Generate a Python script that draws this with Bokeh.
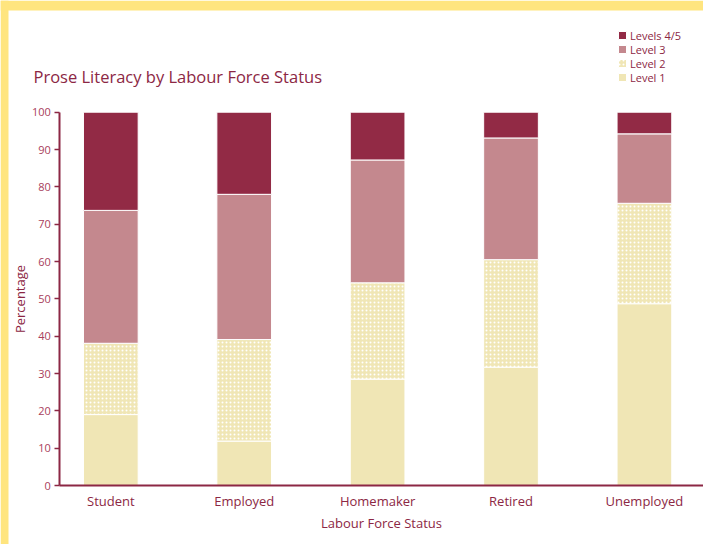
from bokeh.plotting import figure
from bokeh.models import Range1d, FixedTicker, Legend, LegendItem, ColumnDataSource, Label, BoxAnnotation
from bokeh.embed import file_html
from bokeh.resources import INLINE

categories = ["Student", "Employed", "Homemaker", "Retired", "Unemployed"]
level1 = [19.0, 11.9, 28.5, 31.7, 48.7]
level2 = [19.1, 27.2, 25.8, 28.8, 26.9]
level3 = [35.6, 38.9, 32.9, 32.6, 18.6]
level45 = [26.3, 22.0, 12.8, 6.9, 5.8]
y_ticks = [0, 10, 20, 30, 40, 50, 60, 70, 80, 90, 100]
legend_names = ["Level 1", "Level 2", "Level 3", "Levels 4/5"]

MAROON = "#8C2744"
FONT = "Open Sans"
W, H = 703, 544

src = ColumnDataSource(dict(x=list(range(len(categories))), l1=level1, l2=level2, l3=level3, l45=level45))

p = figure(width=W, height=H, output_backend="svg", toolbar_location=None,
           x_range=Range1d(-0.827, 4.443), y_range=Range1d(-15.8, 129.92),
           min_border=0, min_border_left=0, min_border_right=0,
           min_border_top=0, min_border_bottom=0)
p.outline_line_color = None
p.grid.visible = False
p.background_fill_color = "white"
p.border_fill_color = "white"

# decorative yellow page border (top and left)
p.add_layout(BoxAnnotation(bottom=127.24, fill_color="#FFE57F", fill_alpha=1, line_color=None, level="underlay"))
p.add_layout(BoxAnnotation(right=-0.767, fill_color="#FFE57F", fill_alpha=1, line_color=None, level="underlay"))

renderers = p.vbar_stack(["l1", "l2", "l3", "l45"], x="x", width=0.41, source=src,
                         fill_color=["#F0E6B5", "#F0E6B5", "#C4888E", "#922A45"],
                         line_color="white", line_width=1,
                         hatch_pattern=[" ", "dot", " ", " "],
                         hatch_color="white", hatch_scale=4, hatch_weight=2)

# y axis
ya = p.yaxis[0]
ya.fixed_location = -0.382
ya.bounds = (0, 100)
ya.ticker = FixedTicker(ticks=y_ticks)
ya.axis_line_color = MAROON
ya.axis_line_width = 2
ya.major_tick_line_color = MAROON
ya.major_tick_line_width = 1.5
ya.major_tick_out = 5
ya.major_tick_in = 0
ya.minor_tick_line_color = None
ya.major_label_text_font = FONT
ya.major_label_text_font_size = "11px"
ya.major_label_text_color = "#A8405C"
ya.major_label_standoff = 4
ya.axis_label = "Percentage"
ya.axis_label_text_font = FONT
ya.axis_label_text_font_size = "13px"
ya.axis_label_text_font_style = "normal"
ya.axis_label_text_color = MAROON
ya.axis_label_standoff = 0

# x axis
xa = p.xaxis[0]
xa.fixed_location = 0
xa.bounds = (-0.382, 4.443)
xa.ticker = FixedTicker(ticks=list(range(len(categories))))
xa.major_label_overrides = {i: c for i, c in enumerate(categories)}
xa.axis_line_color = MAROON
xa.axis_line_width = 2
xa.major_tick_line_color = None
xa.major_tick_out = 0
xa.major_tick_in = 0
xa.minor_tick_line_color = None
xa.major_label_text_font = FONT
xa.major_label_text_font_size = "13px"
xa.major_label_text_color = MAROON
xa.major_label_standoff = 6
xa.axis_label = "Labour Force Status"
xa.axis_label_text_font = FONT
xa.axis_label_text_font_size = "13px"
xa.axis_label_text_font_style = "normal"
xa.axis_label_text_color = MAROON
xa.axis_label_standoff = 1

title = Label(x=33, y=H - 76, x_units="screen", y_units="screen",
              text="Prose Literacy by Labour Force Status",
              text_font=FONT, text_font_size="16.5px", text_color=MAROON,
              text_baseline="alphabetic", text_align="left")
p.add_layout(title)

# one legend per row so rows can sit closer than Bokeh's minimum row height
row_centers = [76.5, 62.5, 48.5, 34.5]  # Level 1 .. Levels 4/5, screen px from top
for i in range(4):
    lg = Legend(items=[LegendItem(label=legend_names[i], renderers=[renderers[i]])],
                location=(617, H - (row_centers[i] + 8)), orientation="vertical",
                glyph_width=10, glyph_height=10, label_height=10, spacing=0,
                label_standoff=3, padding=0, margin=0,
                label_text_font=FONT, label_text_font_size="11px", label_text_color=MAROON,
                border_line_color=None, background_fill_alpha=0)
    p.add_layout(lg, "center")

open("out.html", "w").write(file_html(p, INLINE))
